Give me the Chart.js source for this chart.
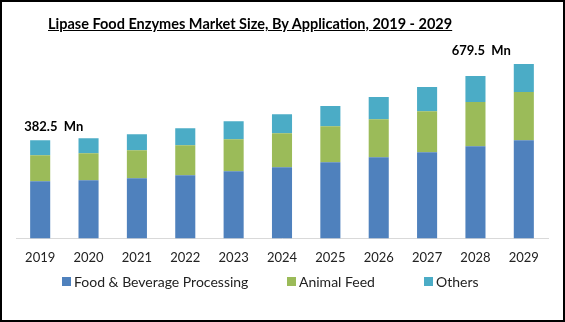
<!DOCTYPE html>
<html>
<head>
<meta charset="utf-8">
<script src="https://cdn.jsdelivr.net/npm/chart.js@4"></script>
<style>
    html, body { margin: 0; padding: 0; background: #fff; }
    #frame {
        position: relative;
        width: 565px; height: 322px;
        box-sizing: border-box;
        border: 2px solid #000;
        background: #fff;
        font-family: Lato, "Open Sans", sans-serif;
    }
    #title {
        position: absolute; left: 46px; top: 13px;
        font-size: 14.5px; font-weight: bold; color: #000;
        text-decoration: underline; white-space: nowrap;
    }
    #chart-box { position: absolute; left: 0; top: 0; width: 561px; height: 318px; }
    #legend {
        position: absolute; top: 271px; left: 60px;
        font-size: 14px; color: #222; white-space: nowrap;
    }
    #legend span.item { position: absolute; top: 0; display: flex; align-items: center; }
    #legend i { display: inline-block; width: 9px; height: 9px; margin-right: 3px; }
</style>
</head>
<body>
<div id="frame">
    <div id="chart-box"><canvas id="chart"></canvas></div>
    <div id="title">Lipase Food Enzymes Market Size, By Application, 2019 - 2029</div>
    <div id="legend"></div>
</div>
<script>
const years = ['2019', '2020', '2021', '2022', '2023', '2024', '2025', '2026', '2027', '2028', '2029'];
const foodBeverage = [222.5, 226.4, 234.2, 245.9, 261.5, 277.1, 296.6, 316.1, 335.7, 359.1, 382.7];
const animalFeed = [101.5, 105.4, 109.3, 117.1, 124.9, 132.7, 140.5, 148.3, 160.0, 171.7, 187.4];
const others = [58.5, 58.5, 62.4, 66.4, 70.3, 74.2, 78.1, 85.9, 93.7, 101.5, 109.4];
const seriesNames = ['Food & Beverage Processing', 'Animal Feed', 'Others'];
const seriesColors = ['#4F81BD', '#9BBB59', '#4BACC6'];
const callouts = [
    { index: 0, text: '382.5  Mn', align: 'left' },
    { index: 10, text: '679.5  Mn', align: 'right' }
];

// totals for the callouts
const totals = years.map((y, i) => foodBeverage[i] + animalFeed[i] + others[i]);

const calloutPlugin = {
    id: 'callouts',
    afterDatasetsDraw(chart) {
        const ctx = chart.ctx;
        const xs = chart.scales.x, ys = chart.scales.y;
        ctx.save();
        ctx.font = 'bold 13px Lato, "Open Sans", sans-serif';
        ctx.fillStyle = '#000';
        ctx.textBaseline = 'middle';
        callouts.forEach(c => {
            const cx = xs.getPixelForValue(c.index);
            const cy = ys.getPixelForValue(totals[c.index]) - 13;
            if (c.align === 'left') {
                ctx.textAlign = 'left';
                ctx.fillText(c.text, cx - 16, cy);
            } else {
                ctx.textAlign = 'right';
                ctx.fillText(c.text, cx - 13, cy);
            }
        });
        ctx.restore();
    }
};

const seriesData = [foodBeverage, animalFeed, others];

new Chart(document.getElementById('chart'), {
    type: 'bar',
    data: {
        labels: years,
        datasets: seriesData.map((d, i) => ({
            label: seriesNames[i],
            data: d,
            backgroundColor: seriesColors[i],
            borderWidth: 0,
            barPercentage: 0.415,
            categoryPercentage: 1
        }))
    },
    options: {
        responsive: true,
        maintainAspectRatio: false,
        animation: false,
        layout: { padding: { top: 31, left: 14, right: 15, bottom: 42 } },
        plugins: {
            legend: { display: false },
            tooltip: { enabled: false }
        },
        scales: {
            x: {
                stacked: true,
                grid: { display: false, drawTicks: false },
                border: { display: true, color: '#D9D9D9', width: 1 },
                ticks: {
                    color: '#222',
                    padding: 12,
                    font: { family: 'Lato, "Open Sans", sans-serif', size: 13 }
                }
            },
            y: {
                stacked: true,
                display: false,
                min: 0,
                max: 800
            }
        }
    },
    plugins: [calloutPlugin]
});

// legend as html, laid out like the original
const legendLeft = [0, 225, 362];
const legend = document.getElementById('legend');
seriesNames.forEach((name, i) => {
    const item = document.createElement('span');
    item.className = 'item';
    item.style.left = legendLeft[i] + 'px';
    item.innerHTML = `<i style="background:${seriesColors[i]}"></i>${name.replace('&', '&amp;')}`;
    legend.appendChild(item);
});
</script>
</body>
</html>
